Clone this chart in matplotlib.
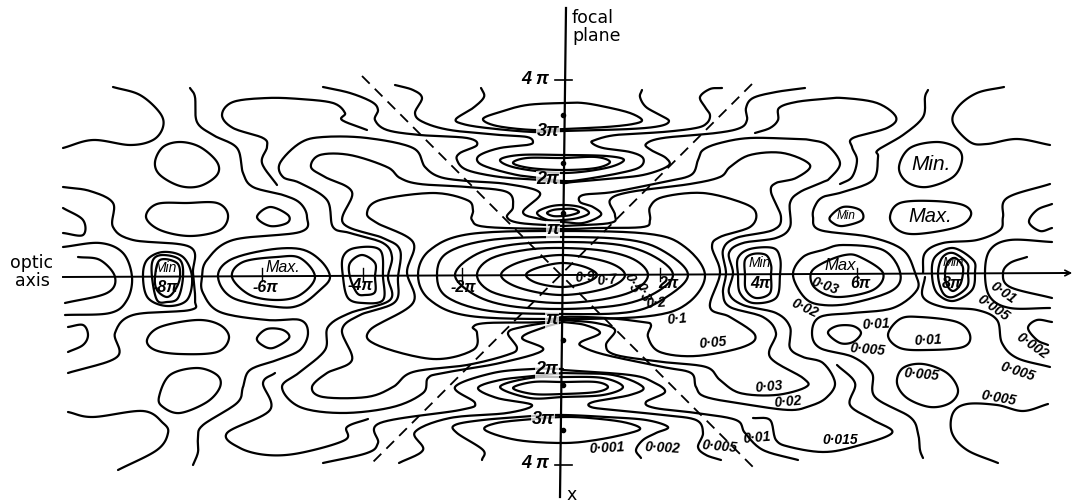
import numpy as np
import matplotlib
matplotlib.use("Agg")
import matplotlib.pyplot as plt

# Isophote traces (x across, y down, 50 units per pi across, 48.5 down)
iso_09 = [(526,275),(537,268),(562,263),(585,267),(597,275),(585,283),(562,287),(537,283)]
iso_07 = [(501,275),(520,262),(562,255),(607,262),(625,275),(607,288),(562,295),(520,288)]
iso_05 = [(477,275),(490,259),(525,250),(563,248),(605,251),(635,260),(648,275),(635,290),(605,299),(563,303),(525,300),(490,291)]
iso_03 = [(455,275),(475,255),(510,245),(563,242),(620,245),(655,257),(673,275),(655,293),(620,305),(563,309),(510,306),(475,295)]
iso_02 = [(437,275),(447,253),(490,240),(563,237),(630,240),(665,252),(688,275),(665,298),(630,312),(563,314),(490,311),(447,297)]
iso_01 = [(418,275),(430,250),(470,234),(563,231),(650,234),(685,247),(705,275),(688,303),(650,316),(563,319),(470,316),(430,300)]
iso_005 = [(563,229),(596,228),(643,227),(650,220),(650,207),(663,197),(703,193),(743,203),(756,213),(750,227),(720,237),(712,247),(720,273),
           (710,307),(730,317),(755,335),(743,347),(696,356),(660,352),(648,337),(651,325),(643,322),(606,318),(563,317),
           (545,322),(487,323),(473,327),(477,333),(473,350),(433,359),(377,345),(370,330),(413,303),(407,272),
           (413,242),(377,223),(367,213),(380,200),(433,193),(467,200),(473,210),(472,220),(487,227)]
iso_003_r = [(563,226),(610,223),(615,215),(610,200),(630,192),(690,184),(720,177),(730,167),(750,155),(783,153),(810,165),(796,178),(776,183),(771,192),(781,217),(773,230),(736,238),(723,250),(726,273),
             (723,293),(730,307),(763,317),(776,333),(770,357),(803,378),(806,387),(776,395),(740,393),(720,380),(706,367),(663,362),(616,355),(606,345),(615,330),(596,323),(563,320)]
iso_003_l = [(563,226),(520,223),(507,217),(513,207),(507,192),(467,187),(420,184),(400,178),(387,167),(350,155),(320,155),(311,167),(325,177),(352,192),(343,223),(383,238),(400,250),(398,277),
             (395,302),(360,315),(342,330),(352,360),(327,373),(312,387),(323,397),(367,397),(393,387),(413,372),(467,365),(507,355),(517,348),(508,333),(522,327),(563,320)]
iso_002_r = [(563,222),(583,223),(601,215),(593,207),(580,202),(583,195),(613,192),(663,182),(691,175),(698,160),(703,150),(720,143),(750,138),(796,139),(810,140),(827,145),(840,163),(830,178),(823,182),(800,192),(790,203),(790,227),(776,238),(743,243),(729,253),(733,273),
             (729,293),(743,305),(776,313),(790,327),(790,348),(803,357),(823,363),(835,383),(826,398),(810,406),(790,410),(750,405),(706,397),(696,387),(691,373),(663,367),(606,355),(583,347),(581,342),(600,333),(585,325),(563,322)]
iso_002_l = [(563,222),(540,219),(523,212),(540,193),(507,184),(467,181),(440,177),(425,167),(413,148),(367,138),(323,137),(300,143),(280,163),(283,177),(300,183),(327,200),(333,227),(350,233),(383,243),(392,257),(388,277),
             (390,300),(350,313),(328,327),(325,350),(300,372),(282,387),(300,407),(343,413),(393,407),(423,393),(428,378),(443,373),(500,363),(543,350),(522,338),(542,328),(563,322)]
iso_001_r = [(928,90),(925,97),(923,117),(903,135),(878,150),(878,157),(873,180),(843,192),(823,197),(815,206),(813,217),(820,230),(870,237),(903,250),(915,273),
             (917,290),(893,308),(853,313),(820,317),(812,333),(820,348),(853,357),(872,373),(875,397),(910,417),(918,433),(920,450),(923,458)]
iso_001_l = [(190,88),(195,97),(197,122),(213,135),(237,148),(243,173),(253,187),(283,195),(300,203),(307,217),(300,232),(233,240),(207,260),(202,277),
             (203,293),(220,312),(267,320),(300,320),(308,333),(300,350),(277,360),(250,370),(243,387),(237,403),(203,425),(198,437),(198,452),(193,465)]
top_lens = [(483,119),(500,112),(527,105),(563,103),(583,103),(606,107),(630,113),(642,120),(633,124),(606,127),(563,129),(533,130),(497,126)]
top_002 = [(642,90),(640,97),(646,107),(660,115),(669,121),(660,126),(630,129),(563,131),(533,132),(487,128),(463,124),(456,119),(473,108),(484,97),(481,88)]
top_005 = [(722,88),(710,89),(700,97),(705,107),(710,115),(707,123),(696,128),(663,132),(616,135),(595,140),(592,143),(603,148),(630,152),(643,158),(640,167),(620,173),(580,180),(563,181),
           (540,178),(517,175),(490,168),(478,162),(480,155),(500,148),(527,145),(533,142),(527,137),(500,135),(450,130),(423,122),(415,113),(422,98),(413,90),(395,85)]
top_01 = [(805,88),(776,92),(753,98),(746,108),(747,120),(740,128),(716,133),(663,138),(646,144),(651,150),(666,158),(668,166),(643,175),(606,179),(573,182),(563,183),
          (540,180),(500,177),(467,170),(457,160),(460,153),(477,145),(467,138),(420,135),(387,130),(375,120),(378,110),(372,102),(350,93),(323,87)]
top_015_r = [(755,133),(770,128),(778,120),(779,108),(796,102),(823,99),(843,98),(877,103),(896,117),(887,128),(853,138),(852,147),(857,160),(852,177),(840,184)]
top_015_l = [(367,130),(342,120),(345,113),(333,103),(300,99),(267,98),(233,102),(222,115),(233,128),(263,138),(267,147),(262,163),(277,185)]
lens_2a = [(563,158),(596,157),(610,162),(596,168),(563,170),(530,168),(513,163),(527,158)]
lens_2b = [(563,155),(606,156),(624,160),(606,168),(563,173),(517,168),(500,160),(520,155)]
lens_1a = [(563,209),(573,209),(579,212),(571,215),(563,216),(553,216),(547,213),(553,210)]
lens_1b = [(563,205),(580,207),(589,213),(578,218),(563,220),(548,220),(537,213),(548,207)]
low_lens_a = [(563,382),(596,382),(608,387),(596,392),(563,394),(533,394),(513,388),(533,382)]
low_lens_b = [(563,377),(603,378),(623,387),(603,395),(563,397),(530,398),(500,387),(530,378)]
low_lens_c = [(563,417),(590,418),(623,422),(640,428),(630,433),(596,440),(563,443),(517,440),(485,430),(497,423),(533,419)]
low_002_r = [(532,416),(563,415),(606,417),(646,420),(668,427),(656,433),(643,440),(636,450),(641,458)]
low_002_l = [(532,416),(483,420),(455,425),(457,433),(483,450),(482,460)]
low_005_r = [(563,373),(613,375),(643,387),(630,395),(593,402),(591,407),(613,410),(663,415),(696,420),(703,433),(698,447),(706,455),(721,460)]
low_005_l = [(563,373),(533,376),(500,380),(478,388),(497,398),(532,405),(507,413),(450,418),(415,432),(423,450),(399,463)]
low_01_r = [(563,370),(630,375),(653,382),(665,392),(646,402),(655,408),(696,413),(736,420),(745,433),(763,450),(798,460)]
low_01_l = [(563,369),(533,369),(493,373),(455,387),(475,403),(460,410),(380,423),(378,443),(367,453),(323,463)]
low_015_r = [(753,418),(770,420),(776,440),(790,447),(823,452),(853,447),(892,433),(873,420),(850,405),(855,383),(837,365)]
low_015_l = [(368,419),(347,427),(345,440),(300,453),(267,455),(240,448),(227,433),(270,410),(263,383),(275,373)]
oval_ul = [(155,162),(163,147),(180,142),(200,147),(217,162),(217,175),(200,186),(180,186),(160,175)]
oval_ml = [(146,217),(157,204),(187,203),(217,203),(228,215),(220,230),(190,236),(160,230)]
oval_ms = [(257,217),(270,207),(288,215),(287,223),(270,226)]
oval_ll = [(159,397),(170,375),(197,368),(217,375),(220,387),(207,402),(180,413),(163,407)]
oval_lm = [(147,340),(160,327),(197,320),(220,325),(229,338),(217,352),(180,354),(155,350)]
oval_ls = [(257,338),(267,329),(283,330),(289,338),(273,348),(262,345)]
oval_min_big = [(899,167),(910,148),(937,142),(957,148),(962,160),(953,177),(927,187),(907,182)]
oval_max_big = [(890,217),(900,203),(933,201),(963,205),(971,215),(957,227),(917,234),(898,230)]
oval_min_small = [(830,217),(843,207),(860,210),(862,220),(843,226),(833,223)]
oval_r1 = [(828,333),(837,326),(853,326),(861,333),(853,342),(840,343)]
oval_r2 = [(888,335),(900,319),(920,317),(957,322),(970,335),(963,347),(927,350),(900,348)]
oval_r3 = [(897,383),(903,368),(923,364),(947,373),(958,390),(950,403),(930,407),(907,398)]
far_ul = [(113,87),(140,95),(160,113),(163,127),(153,140),(130,145),(93,140),(63,148)]
far_l1 = [(63,187),(90,191),(113,203),(113,227),(133,240),(190,247),(193,273),(195,300),(190,310),(133,315),(115,333),(117,357),(68,373)]
far_l2 = [(63,208),(83,220),(83,235),(63,233)]
far_l3 = [(63,247),(100,243),(123,253),(132,277),(127,300),(110,313),(65,315)]
far_l4 = [(78,257),(100,260),(115,277),(107,293),(65,303)]
far_l5 = [(68,327),(83,325),(88,335),(83,345),(68,352)]
far_ll = [(68,412),(93,417),(143,411),(163,423),(168,433),(157,450),(118,470)]
far_ur = [(1004,87),(977,93),(958,107),(953,123),(970,142),(987,144),(1017,139),(1050,145)]
far_r1 = [(923,273),(925,253),(943,243),(977,240),(1000,230),(1003,217),(1007,198),(1050,184)]
far_r1b = [(925,277),(923,297),(943,307),(977,310),(997,320),(1002,343),(1017,358),(1050,367)]
far_r2 = [(1052,204),(1037,210),(1029,222),(1040,231),(1052,228)]
far_r3 = [(1052,242),(1010,240),(990,250),(985,273),(990,297),(1010,308),(1050,308)]
far_r4 = [(1027,257),(1010,263),(1003,273),(1010,287),(1052,298)]
far_r5 = [(1052,322),(1037,320),(1028,328),(1037,340),(1048,345)]
far_lr = [(1048,404),(1023,411),(997,405),(967,404),(953,413),(952,433),(967,450),(998,463)]
min_m8a = [(143,277),(147,260),(163,252),(183,257),(192,277),(187,300),(167,306),(148,298)]
min_m8b = [(152,277),(153,260),(163,255),(180,260),(183,277),(178,298),(167,302),(157,300)]
min_m8c = [(155,277),(160,260),(177,263),(180,277),(175,290),(167,297),(157,290)]
max_m6a = [(218,277),(230,260),(267,250),(300,249),(320,260),(330,277),(320,290),(300,305),(277,307),(233,298)]
max_m6b = [(232,277),(243,262),(277,257),(300,258),(315,277),(300,295),(277,300),(250,295)]
min_m4a = [(343,277),(343,257),(355,248),(380,250),(383,277),(383,300),(363,303),(348,298)]
min_m4b = [(350,277),(350,263),(362,255),(375,263),(375,277),(375,292),(365,295),(357,293)]
min_p4a = [(738,275),(738,258),(750,249),(773,248),(780,258),(780,275),(776,298),(753,303),(740,293)]
min_p4b = [(745,275),(745,260),(753,254),(766,255),(771,265),(771,275),(770,293),(756,298),(746,290)]
max_p6a = [(793,275),(803,257),(823,250),(843,245),(883,250),(900,272),(893,290),(853,303),(823,305),(805,298)]
max_p6b = [(811,273),(823,263),(845,255),(860,257),(883,273),(873,290),(837,297),(815,288)]
min_p8a = [(932,275),(935,257),(953,248),(973,260),(975,272),(972,290),(953,301),(937,293)]
min_p8b = [(938,275),(942,258),(953,253),(967,263),(968,273),(967,287),(953,297),(943,293)]
min_p8c = [(945,273),(948,262),(955,258),(962,265),(963,273),(960,285),(953,291),(947,285)]

closed_curves = [iso_09, iso_07, iso_05, iso_03, iso_02, iso_01, iso_005, top_lens, lens_2a, lens_2b, lens_1a, lens_1b,
                 low_lens_a, low_lens_b, low_lens_c, oval_ul, oval_ml, oval_ms, oval_ll, oval_lm, oval_ls,
                 oval_min_big, oval_max_big, oval_min_small, oval_r1, oval_r2, oval_r3,
                 min_m8a, min_m8b, min_m8c, max_m6a, max_m6b, min_m4a, min_m4b, min_p4a, min_p4b,
                 max_p6a, max_p6b, min_p8a, min_p8b, min_p8c]
open_curves = [iso_003_r, iso_003_l, iso_002_r, iso_002_l, iso_001_r, iso_001_l, top_002, top_005, top_01,
               top_015_r, top_015_l, low_002_r, low_002_l, low_005_r, low_005_l, low_01_r, low_01_l,
               low_015_r, low_015_l, far_ul, far_l1, far_l2, far_l3, far_l4, far_l5, far_ll, far_ur,
               far_r1, far_r1b, far_r2, far_r3, far_r4, far_r5, far_lr]

dash_a = [(362,76),(753,467)]
dash_b = [(752,84),(370,465)]
axis_dots_y = [115,163,213,340,385,430]
axis_ticks_x = [262,363,462,660,857]

axis_labels = [("4 π",535,80),("3π",548,131),("2π",548,180),("π",553,230),("π",552,320),("2π",547,370),
               ("3π",543,419),("4 π",535,463)]
inline_labels = [("-2π",463,287),("-4π",360,285),("-6π",265,287),("-8π",165,288),
                 ("2π",668,283),("4π",760,284),("6π",860,283),("8π",952,283)]
word_labels = [("Min.",931,165,15),("Max.",930,217,14.5),("Min",846,216,8.5),("Max.",283,267,11.5),("Min",166,268,10),
               ("Min",760,263,10),("Max",840,265,12),("Min",953,263,9.5)]
value_labels = [("0·9",585,277,5),("0·7",607,280,5),("0·5",632,283,-70),("0·3",643,292,-70),("0·2",656,303,5),("0·1",677,319,5),
                ("0·05",713,343,5),("0·03",769,387,5),("0·02",788,402,5),("0·01",757,438,5),("0·005",720,447,-5),("0·002",662,448,-3),
                ("0·001",607,448,3),("0·015",840,440,0),("0·02",805,308,-25),("0·03",825,286,-20),("0·01",876,324,3),("0·005",868,350,-5),
                ("0·01",928,340,3),("0·005",922,375,-5),("0·005",1018,372,-18),("0·005",999,398,-10),("0·002",1032,346,-35),
                ("0·005",993,308,-35),("0·01",1003,293,-35)]

def to_u(x):
    return (np.asarray(x, float) - 563) / 50
def to_v(y):
    return (275 - np.asarray(y, float)) / 48.5

def smooth(points, closed):
    p = np.array(points, float)
    if closed:
        p = np.vstack([p[-1], p, p[0], p[1]])
    else:
        p = np.vstack([2*p[0]-p[1], p, 2*p[-1]-p[-2]])
    t = np.linspace(0, 1, 14, endpoint=False)[:, None]
    out = []
    for i in range(1, len(p)-2):
        a, b, c, d = p[i-1], p[i], p[i+1], p[i+2]
        out.append(0.5*((2*b) + (c-a)*t + (2*a-5*b+4*c-d)*t**2 + (3*b-a-3*c+d)*t**3))
    out.append(p[-2][None, :])
    return np.vstack(out)

fig = plt.figure(figsize=(10.75, 5.04), dpi=100)
ax = fig.add_axes([0, 0, 1, 1])
ax.set_xlim(to_u(0), to_u(1075))
ax.set_ylim(to_v(504), to_v(0))
ax.axis("off")

for curve, is_closed in [(c, True) for c in closed_curves] + [(c, False) for c in open_curves]:
    s = smooth(curve, is_closed)
    ax.plot(to_u(s[:, 0]), to_v(s[:, 1]), color="black", lw=1.6, solid_capstyle="round")

for d in (dash_a, dash_b):
    xs, ys = zip(*d)
    ax.plot(to_u(xs), to_v(ys), color="black", lw=1.3, dashes=(6, 4))

ax.plot(to_u([63, 1068]), to_v([277, 273]), color="black", lw=1.4)
ax.plot(to_u([566, 560]), to_v([8, 497]), color="black", lw=1.6)
ax.annotate("", xy=(to_u(1075), to_v(273)), xytext=(to_u(1058), to_v(273)),
            arrowprops=dict(arrowstyle="->", color="black", lw=1.2))
ax.plot(to_u([563]*len(axis_dots_y)), to_v(axis_dots_y), "o", color="black", ms=3)
for tx in axis_ticks_x:
    ax.plot(to_u([tx, tx]), to_v([268, 281]), color="black", lw=1.0)
for ty in (80, 465):
    ax.plot(to_u([555, 572]), to_v([ty, ty]), color="black", lw=1.2)

hand = dict(family="Liberation Sans", style="italic", color="black", ha="center", va="center")
for txt, x, y in axis_labels:
    ax.text(to_u(x), to_v(y), txt, fontsize=13, fontweight="bold", **hand,
            bbox=dict(fc="white", ec="none", pad=0.3, alpha=0.75))
for txt, x, y in inline_labels:
    ax.text(to_u(x), to_v(y), txt, fontsize=11.5, fontweight="bold", **hand)
for txt, x, y, fs in word_labels:
    ax.text(to_u(x), to_v(y), txt, fontsize=fs, **hand)
for txt, x, y, r in value_labels:
    ax.text(to_u(x), to_v(y), txt, fontsize=10, fontweight="bold", rotation=r, rotation_mode="anchor", **hand)

plain = dict(family="DejaVu Sans", color="black", fontsize=12.5, linespacing=1.05)
ax.text(to_u(572), to_v(27), "focal\nplane", ha="left", va="center", **plain)
ax.text(to_u(32), to_v(272), "optic\naxis", ha="center", va="center", **plain)
ax.text(to_u(572), to_v(495), "x", ha="center", va="center", **plain)

fig.savefig("out.png", dpi=100)
